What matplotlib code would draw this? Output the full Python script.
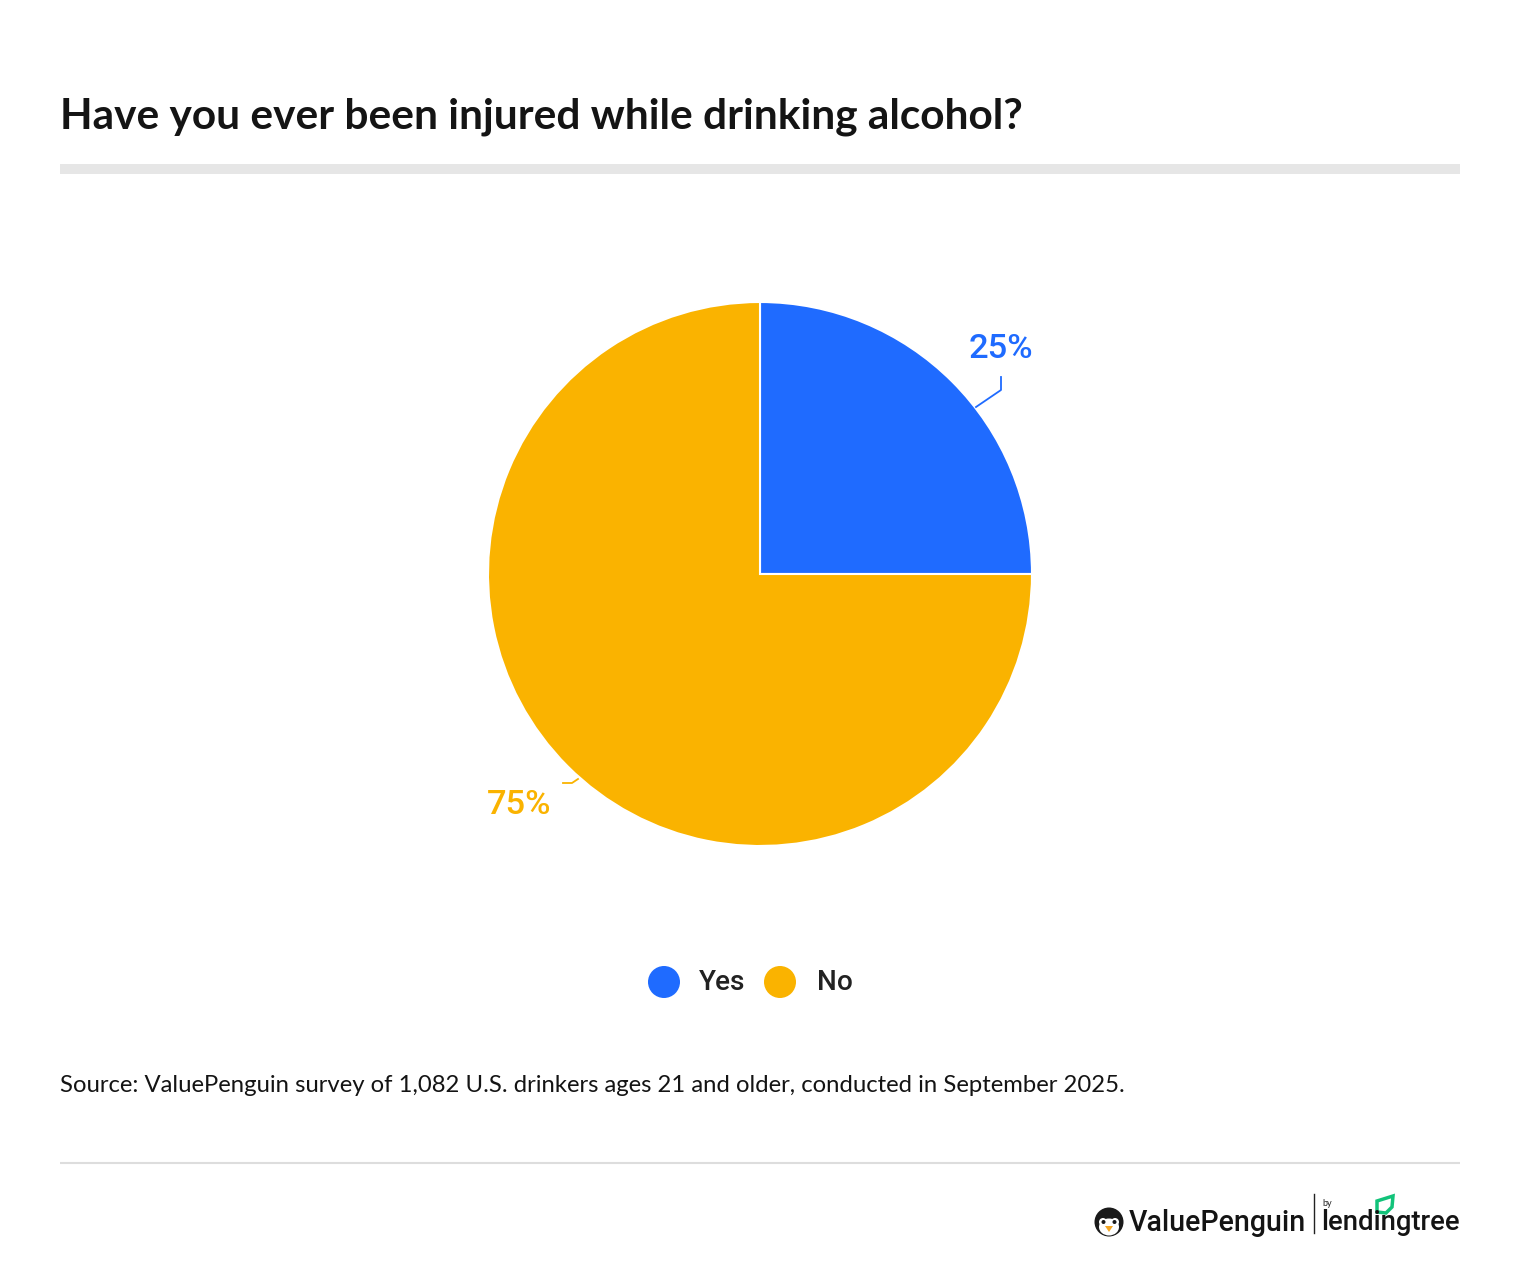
import matplotlib
matplotlib.use('Agg')
import matplotlib.pyplot as plt
from matplotlib.patches import Circle, Ellipse, Polygon, Rectangle

plt.rcParams['font.family'] = ['Lato', 'DejaVu Sans']

title = 'Have you ever been injured while drinking alcohol?'
source = 'Source: ValuePenguin survey of 1,082 U.S. drinkers ages 21 and older, conducted in September 2025.'
labels = ['Yes', 'No']
values = [25, 75]
colors = ['#1F6BFF', '#FAB300']
value_labels = ['25%', '75%']

W, H = 1520, 1272
fig = plt.figure(figsize=(W / 100, H / 100), dpi=100, facecolor='white')
# whole figure as one axes, in image pixels
ax = fig.add_axes([0, 0, 1, 1])
ax.set_xlim(0, W)
ax.set_ylim(H, 0)
ax.axis('off')

ax.text(60, 117, title, fontsize=30.55, fontweight='bold', color='#141414', va='center', ha='left')
ax.add_patch(Rectangle((60, 164), 1400, 10, color='#E6E6E6', lw=0))

# pie, y axis is flipped so the angles run the other way round
ax.pie(values, colors=colors, center=(760, 574), radius=272, startangle=-90,
       counterclock=True, frame=False, wedgeprops={'edgecolor': 'white', 'linewidth': 1.5})
ax.set_xlim(0, W)
ax.set_ylim(H, 0)
ax.set_aspect('auto')

ax.plot([976, 1001, 1001], [407, 390, 377], color=colors[0], lw=1.3)
ax.plot([578, 572, 563], [779, 783, 783], color=colors[1], lw=1.3)
ax.text(1001, 348.5, value_labels[0], color=colors[0], fontsize=24.8, family='Roboto',
        fontweight='medium', ha='center', va='center')
ax.text(519, 804.5, value_labels[1], color=colors[1], fontsize=24.8, family='Roboto',
        fontweight='medium', ha='center', va='center')

# legend
ax.add_patch(Circle((664, 982), 16, color=colors[0], lw=0))
ax.add_patch(Circle((780, 982), 16, color=colors[1], lw=0))
ax.text(699, 983, labels[0], fontsize=20.2, family='Roboto', fontweight='medium', color='#222222', va='center')
ax.text(817, 983, labels[1], fontsize=20.2, family='Roboto', fontweight='medium', color='#222222', va='center')

ax.text(60, 1086, source, fontsize=17.2, color='#141414', va='center', ha='left')
ax.plot([60, 1460], [1163, 1163], color='#DDDDDD', lw=1.5, solid_capstyle='butt')

# logos
ax.add_patch(Circle((1109, 1222), 14.5, color='#1A1A1A', lw=0))
ax.add_patch(Ellipse((1109, 1227), 20, 17, color='white', lw=0))
ax.add_patch(Circle((1103, 1222), 4, color='white', lw=0))
ax.add_patch(Circle((1115, 1222), 4, color='white', lw=0))
ax.add_patch(Circle((1103.5, 1222), 2, color='#1A1A1A', lw=0))
ax.add_patch(Circle((1114.5, 1222), 2, color='#1A1A1A', lw=0))
ax.add_patch(Polygon([[1105, 1226], [1113, 1226], [1109, 1232]], color='#F5A623', lw=0))
ax.text(1129, 1223, 'ValuePenguin', fontsize=20.55, family='Roboto', fontweight='medium', color='#141414', va='center', ha='left')
ax.plot([1313.5, 1313.5], [1194, 1233], color='#222222', lw=1)
ax.text(1322, 1204, 'by', fontsize=6.5, color='#222222', va='center', ha='left')
ax.text(1321, 1223, 'lendingtree', fontsize=19.8, family='Roboto', fontweight='medium', color='#141414', va='center', ha='left')
ax.add_patch(Polygon([[1377, 1201], [1393, 1196], [1392, 1207], [1386, 1213], [1377, 1212]],
                     facecolor='white', edgecolor='#12C37A', lw=2.5, zorder=1))

fig.savefig('out.png', dpi=100, facecolor='white')
